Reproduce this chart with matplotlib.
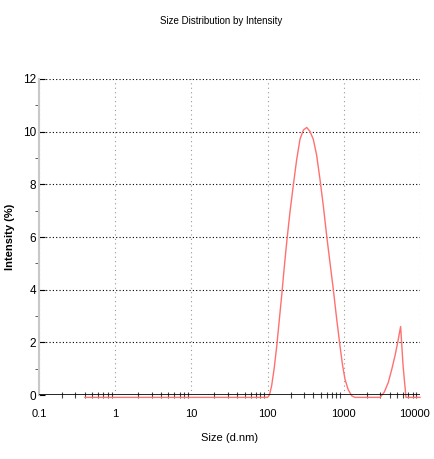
import numpy as np
import matplotlib
matplotlib.use("Agg")
import matplotlib.pyplot as plt
import matplotlib.transforms as mtrans
from matplotlib.ticker import FixedLocator, NullFormatter

plt.rcParams['font.family'] = ['Liberation Sans Narrow', 'Liberation Sans', 'DejaVu Sans']

# size bins (d.nm) and intensity (%)
size_nm = [0.4, 1, 10, 100, 106, 113, 122, 132, 142, 153, 165, 178, 196, 217, 240,
           266, 295, 326, 360, 398, 440, 487, 540, 596, 660, 728, 805, 891, 960,
           1037, 1140, 1270, 1400, 2990, 3400, 3840, 4250, 4700, 5150, 5570, 6000,
           6550, 10000]
intensity = [0, 0, 0, 0, 0.1, 0.44, 1.1, 1.96, 2.9, 3.86, 4.9, 5.88, 7.0, 8.03, 9.0,
             9.8, 10.15, 10.25, 10.1, 9.8, 9.2, 8.28, 7.25, 6.14, 5.1, 4.11, 3.0, 1.96, 1.25,
             0.69, 0.3, 0.06, 0, 0, 0.2, 0.57, 1.05, 1.58, 2.15, 2.69, 1.2,
             0, 0]

x_ticks = [0.1, 1, 10, 100, 1000, 10000]
x_labels = ['0.1', '1', '10', '100', '1000', '10000']
y_ticks = [0, 2, 4, 6, 8, 10, 12]

fig = plt.figure(figsize=(4.34, 4.59), dpi=100)
ax = fig.add_axes([0.0899, 0.1394, 0.8778, 0.6885])

ax.plot(size_nm, np.array(intensity) - 0.09, color='#ff7070', lw=1.0, zorder=3, clip_on=False)
ax.axhline(0, color='black', lw=1.2, zorder=4)

ax.set_xscale('log')
ax.set_xlim(0.1, 10000)
ax.set_ylim(0, 12)
ax.set_xticks(x_ticks)
ax.set_xticklabels(x_labels)
ax.set_yticks(y_ticks)
ax.yaxis.set_minor_locator(FixedLocator([1, 3, 5, 7, 9, 11]))
minors = [m * 10.0 ** e for e in range(-1, 4) for m in range(2, 10)]
ax.xaxis.set_minor_locator(FixedLocator(minors))
ax.xaxis.set_minor_formatter(NullFormatter())

ax.grid(True, which='major', axis='y', color='black', ls=(0, (1, 2)), lw=0.8)
ax.grid(True, which='major', axis='x', color='#999999', ls=(0, (1, 3)), lw=0.8)

for s in ['top', 'right', 'bottom']:
    ax.spines[s].set_visible(False)
ax.spines['left'].set_color('#c8c8c8')
ax.spines['left'].set_linewidth(1.5)

ax.tick_params(axis='y', which='major', length=4, direction='in', labelsize=8.5, pad=2)
ax.tick_params(axis='y', which='minor', length=3, direction='out', color='#444444')
ax.tick_params(axis='x', which='major', length=0, labelsize=8, pad=10)
ax.tick_params(axis='x', which='minor', length=5, direction='inout', color='#444444', width=0.8)
last = ax.get_xticklabels()[-1]
last.set_transform(last.get_transform() + mtrans.ScaledTranslation(-4 / 72, 0, fig.dpi_scale_trans))

ax.set_xlabel('Size (d.nm)', fontsize=8, labelpad=10)
ax.set_ylabel('Intensity (%)', fontsize=8, fontweight='bold', labelpad=6)
fig.text(0.51, 0.955, 'Size Distribution by Intensity', ha='center', va='center', fontsize=7)

fig.savefig('out.png', dpi=100)
